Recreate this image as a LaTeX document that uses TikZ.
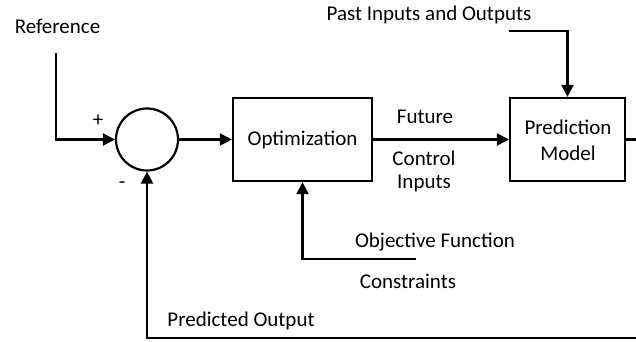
\documentclass[tikz,border=0pt]{standalone}
\usepackage{fontspec}
\setmainfont{Carlito}
\usetikzlibrary{arrows.meta}
\begin{document}
\begin{tikzpicture}[x=1pt,y=-1pt,
  line width=2.2pt,
  >={Triangle[length=12pt,width=12pt]},
  lbl/.style={inner sep=0pt,font=\fontsize{21}{25}\selectfont,align=center},
  block/.style={draw,rectangle,inner sep=0pt,minimum height=83pt},
  sumpt/.style={draw,circle,inner sep=0pt,minimum size=62pt}]
\useasboundingbox (0,0) rectangle (636,341);

% blocks
\node[sumpt] (sum) at (147,139.5) {};
\node[block,minimum width=139pt] (opt) at (302.5,139.5) {};
\node[lbl] at (opt.center) {Optimization};
\node[block,minimum width=115pt] (pred) at (567.5,139.5) {};
\node[lbl,font=\fontsize{21}{26}\selectfont] at (568,140) {Prediction\\Model};

% labels
\node[lbl] (ref) at (57.5,26) {Reference};
\node[lbl] (past) at (429,15) {Past Inputs and Outputs};
\node[lbl] (fut) at (425,117) {Future};
\node[lbl,font=\fontsize{21}{23}\selectfont] (ctl) at (424,171.5) {Control\\Inputs};
\node[lbl] (obj) at (435,242) {Objective Function};
\node[lbl] (cons) at (408,281) {Constraints};
\node[lbl] (pout) at (241,321) {Predicted Output};
\node[lbl] (plus) at (98,121) {+};
\node[lbl] (minus) at (122,185) {-};

% free ends of the connectors
\coordinate (refstart) at (56,53);
\coordinate (paststart) at (509,31);
\coordinate (objstart) at (416,259);
\coordinate (outR) at (640,139.5);
\coordinate (outB) at (640,338);

% connectors
\draw[->] (refstart) |- (sum.west);
\draw[->] (sum.east) -- (opt.west);
\draw[->] (opt.east) -- (pred.west);
\draw[->] (paststart) -| (pred.north);
\draw[->] (objstart) -| (opt.south);
\draw (pred.east) -- (outR);
\draw[->] (outB) -| (sum.south);
\end{tikzpicture}
\end{document}
